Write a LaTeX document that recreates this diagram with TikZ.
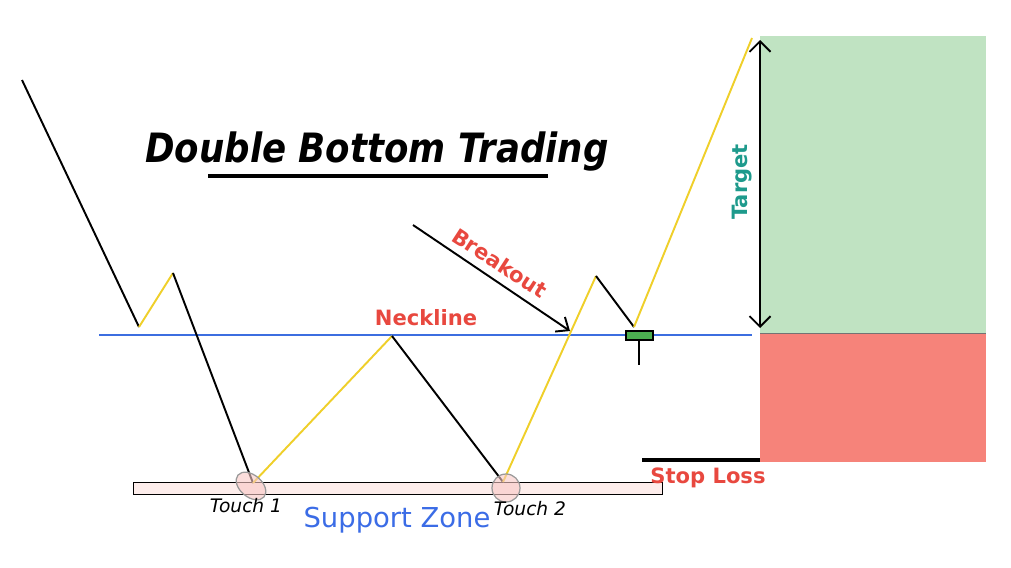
\documentclass[tikz,border=0pt]{standalone}
\usepackage{fontspec}
\setmainfont{DejaVu Sans}
\newfontfamily\titlefont[FakeStretch=0.88]{DejaVu Sans}
\usetikzlibrary{arrows.meta,shapes.geometric}
\definecolor{lossred}{HTML}{E8483F}
\definecolor{riseyellow}{HTML}{EFCF2A}
\definecolor{neckblue}{HTML}{3C6EE0}
\definecolor{zoneblue}{HTML}{3B6CE6}
\definecolor{targetteal}{HTML}{1E9A8C}
\definecolor{targetgreen}{HTML}{C0E3C2}
\definecolor{stopred}{HTML}{F6837A}
\definecolor{zonepink}{HTML}{FDEDEB}
\definecolor{candlegreen}{HTML}{4CAF50}

\begin{document}
\begin{tikzpicture}[
  x=0.02cm, y=-0.02cm,
  fall/.style={black, line width=1.1pt},
  rise/.style={riseyellow, line width=1.1pt},
  redlbl/.style={font=\bfseries\fontsize{12}{14}\selectfont, text=lossred, inner sep=0pt},
  touchlbl/.style={font=\itshape\fontsize{10.6}{12}\selectfont, inner sep=0pt},
  touchmark/.style={draw=black!40, fill=lossred!30, fill opacity=0.6, line width=0.7pt}
]
\useasboundingbox (0,0) rectangle (1011,568);

% target and stop areas
\fill[targetgreen] (760,36) rectangle (986,333);
\fill[stopred] (760,333) rectangle (986,462);
\draw[black!55, line width=0.4pt] (760,333) -- (986,333);

% support zone
\node[draw=black, fill=zonepink, line width=0.6pt, minimum width=529*0.02cm, minimum height=12*0.02cm, inner sep=0pt, anchor=north west] (zone) at (133,482) {};
\node[font=\fontsize{15.6}{18}\selectfont, text=zoneblue, inner sep=0pt] (zonelbl) at (397,520) {Support Zone};

% neckline
\coordinate (neckL) at (99,335);
\coordinate (neckR) at (752,335);
\draw[neckblue, line width=1pt] (neckL) -- (neckR);
\node[redlbl] (necklbl) at (426,318) {Neckline};

% price path
\coordinate (p0) at (22,80);
\coordinate (p1) at (139,327);
\coordinate (p2) at (173,273);
\coordinate (p3) at (253,483);
\coordinate (p4) at (392,336);
\coordinate (p5) at (503,482);
\coordinate (p6) at (596,276);
\coordinate (p7) at (634,327);
\coordinate (p8) at (752,38);
\draw[fall] (p0) -- (p1);
\draw[rise] (p1) -- (p2);
\draw[fall] (p2) -- (p3);
\draw[rise] (p3) -- (p4);
\draw[fall] (p4) -- (p5);
\draw[rise] (p5) -- (p6);
\draw[fall] (p6) -- (p7);
\draw[rise] (p7) -- (p8);

% touches
\node[touchmark, ellipse, minimum width=34*0.02cm, minimum height=22*0.02cm, rotate=-40] (touchA) at (251,486) {};
\node[touchmark, circle, minimum size=28*0.02cm] (touchB) at (506,488) {};
\node[touchlbl] (touchAlbl) at (246,506) {Touch 1};
\node[touchlbl] (touchBlbl) at (530,509) {Touch 2};

% breakout candle
\node[draw=black, fill=candlegreen, line width=0.6pt, minimum width=27*0.02cm, minimum height=9*0.02cm, inner sep=0pt] (candle) at (639.5,335.5) {};
\coordinate (wick) at (639,365);
\draw[black, line width=1.2pt] (candle.south -| wick) -- (wick);

% breakout arrow
\coordinate (brkA) at (413,225);
\coordinate (brkB) at (570,331);
\draw[black, line width=1.1pt, -{Straight Barb[length=6pt, width=10pt]}] (brkA) -- (brkB);
\node[redlbl, rotate=-33] (brklbl) at (500,263) {Breakout};

% target
\coordinate (tgtT) at (760,40);
\coordinate (tgtB) at (760,328);
\draw[black, line width=1.1pt, {Straight Barb[length=6pt, width=12pt]}-{Straight Barb[length=6pt, width=12pt]}] (tgtT) -- (tgtB);
\node[font=\bfseries\fontsize{12}{14}\selectfont, text=targetteal, rotate=90, inner sep=0pt] (tgtlbl) at (742,182) {Target};

% stop loss
\coordinate (stopL) at (642,460);
\coordinate (stopR) at (760,460);
\draw[black, line width=1.8pt] (stopL) -- (stopR);
\node[redlbl] (stoplbl) at (708,478) {Stop Loss};

% title
\node[font=\titlefont\bfseries\itshape\fontsize{23}{27}\selectfont, inner sep=0pt] (title) at (377,152) {Double Bottom Trading};
\coordinate (ulL) at (208,176);
\coordinate (ulR) at (548,176);
\draw[black, line width=2.2pt] (ulL) -- (ulR);
\end{tikzpicture}
\end{document}
